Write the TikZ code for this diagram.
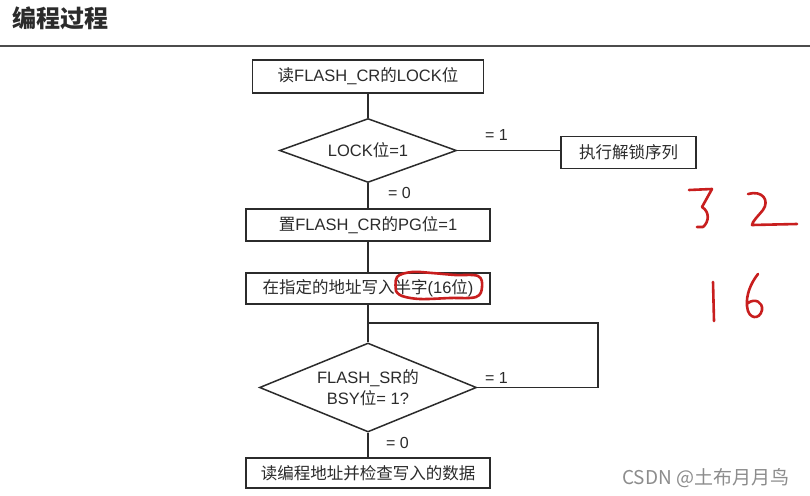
\documentclass[tikz,border=0pt]{standalone}
\usepackage{fontspec}
\setmainfont{Liberation Sans}
\newfontfamily\cjk{Noto Sans CJK SC}
\newcommand\zhs[1]{{\cjk #1}}
\usetikzlibrary{shapes.geometric}
\definecolor{ink}{HTML}{2B2B2B}
\definecolor{pen}{HTML}{C81E1E}
\tikzset{
  box/.style={draw=ink, line width=1.5pt, rectangle, inner sep=0pt, text=ink,
    font=\fontsize{16.5}{20}\selectfont},
  dia/.style={draw=ink, line width=1.5pt, diamond, inner sep=0pt, text=ink, align=center,
    font=\fontsize{16.5}{21}\selectfont},
  conn/.style={draw=ink, line width=1.5pt},
  lab/.style={text=ink, font=\fontsize{16}{18}\selectfont, inner sep=0pt},
  redpen/.style={draw=pen, line width=2.6pt, line cap=round, line join=round}
}
\begin{document}
\begin{tikzpicture}[x=1pt,y=-1pt]
\useasboundingbox (0,0) rectangle (810,495);
\fill[white] (0,0) rectangle (810,495);
% title and rule
\node[anchor=west, inner sep=0pt, text=ink, font=\fontsize{24}{28}\selectfont\cjk\bfseries] (title) at (12,18) {编程过程};
\draw[black!70, line width=2.4pt] (0,46) -- (810,46);
% nodes
\node[box, minimum width=231pt, minimum height=33pt] (b1) at (368,76.5) {\zhs{读}FLASH\_CR\zhs{的}LOCK\zhs{位}};
\node[dia, minimum width=177pt, minimum height=64pt, aspect=2.77] (d1) at (368,150.5) {LOCK\zhs{位}=1};
\node[box, minimum width=135pt, minimum height=32pt] (bu) at (628.5,152.5) {\zhs{执行解锁序列}};
\node[box, minimum width=244pt, minimum height=32pt] (b2) at (368,225) {\zhs{置}FLASH\_CR\zhs{的}PG\zhs{位}=1};
\node[box, minimum width=244pt, minimum height=31pt] (b3) at (368,288.5) {\zhs{在指定的地址写入半字}(16\zhs{位})};
\node[dia, minimum width=217pt, minimum height=89pt, aspect=2.44] (d2) at (368,387.5) {FLASH\_SR\zhs{的}\\BSY\zhs{位}= 1?};
\node[box, minimum width=244pt, minimum height=30pt] (b5) at (368,473) {\zhs{读编程地址并检查写入的数据}};
% connectors
\draw[conn] (b1.south) -- (d1.north);
\draw[conn] (d1.east) -- (bu.west |- d1.east);
\draw[conn] (d1.south) -- (b2.north);
\draw[conn] (b2.south) -- (b3.north);
\draw[conn] (b3.south) -- (d2.north);
\coordinate (jr) at (598,323);
\draw[conn] (d2.east) -| (jr) -- (jr -| d2.north);
\draw[conn] (d2.south) -- (b5.north);
% labels
\node[lab, anchor=west] (l1) at (485,135) {= 1};
\node[lab, anchor=west] (l2) at (388,193) {= 0};
\node[lab, anchor=west] (l3) at (485,378) {= 1};
\node[lab, anchor=west] (l4) at (386,443) {= 0};
% red handwriting
\draw[redpen] plot[smooth, tension=0.6] coordinates {(396,291) (397,277) (412,272) (432,273) (455,275) (478,276) (482,287) (476,297) (450,298) (420,299) (402,296) (396,291)};
\draw[redpen] (689,190) -- (712,189) -- (702,207) .. controls (710,212) and (709,222) .. (703,227) -- (697,227);
\draw[redpen] (748,194) .. controls (762,190) and (770,200) .. (763,210) .. controls (758,216) and (752,222) .. (752,225) -- (797,224);
\draw[redpen] (713,282) -- (714,321);
\draw[redpen] (758,274) .. controls (750,284) and (746,296) .. (747,306) .. controls (748,320) and (760,320) .. (762,310) .. controls (763,302) and (755,298) .. (748,303);
% watermark
\node[anchor=west, inner sep=0pt, text=black!45, font=\fontsize{19}{22}\selectfont\cjk] (wm) at (622,478) {CSDN @土布月月鸟};
\end{tikzpicture}
\end{document}
